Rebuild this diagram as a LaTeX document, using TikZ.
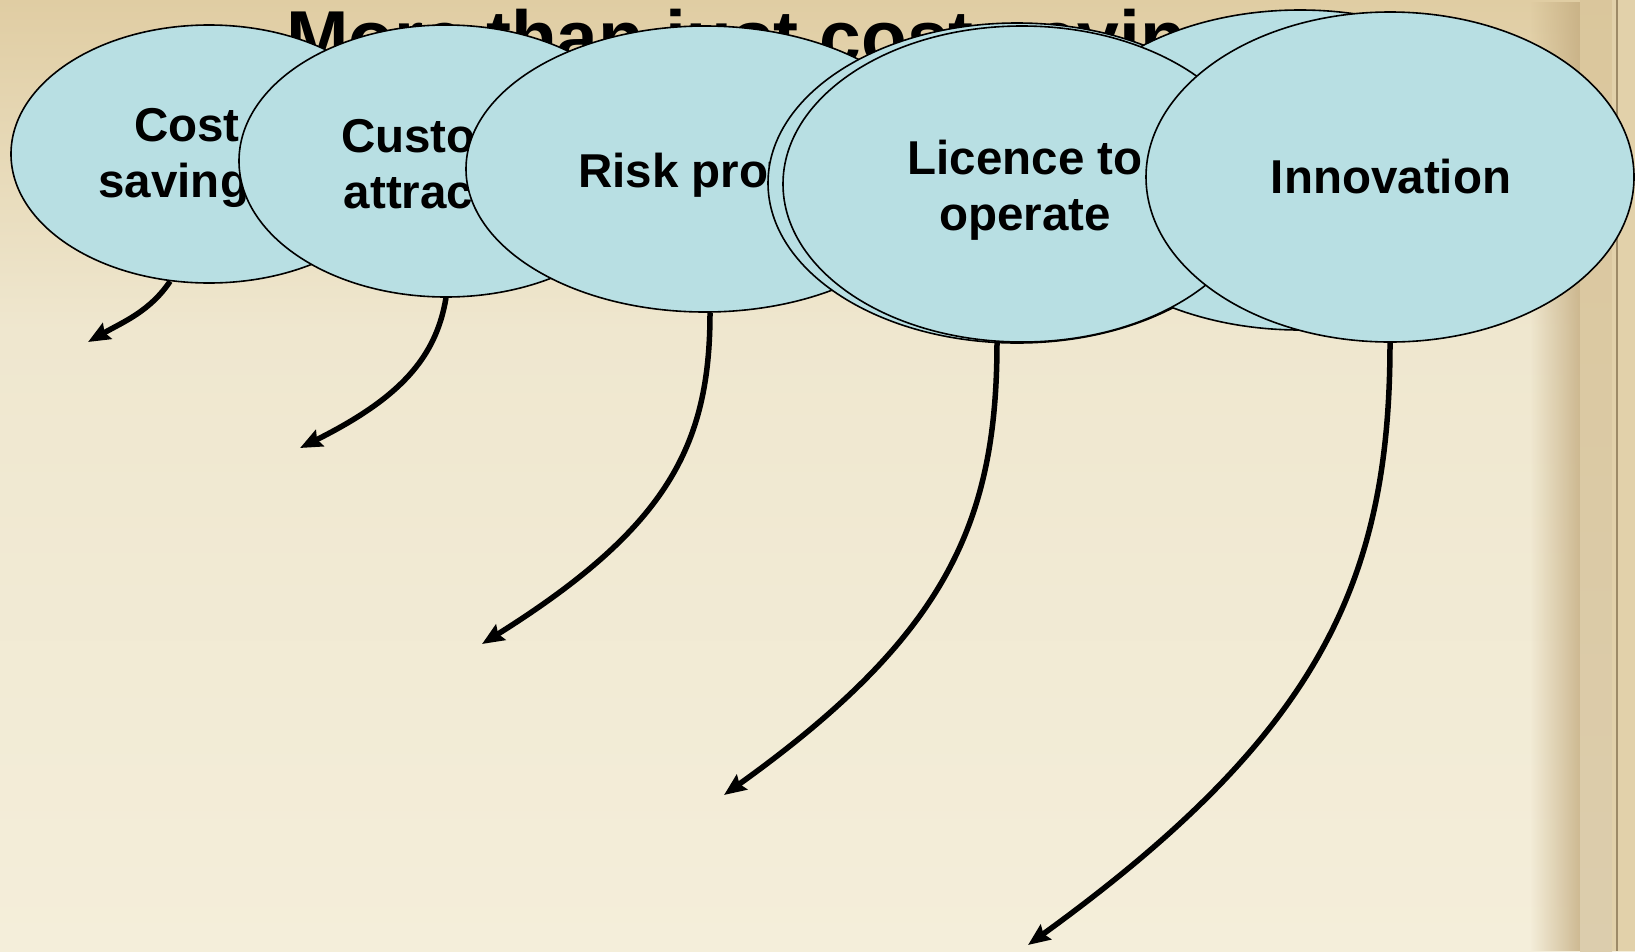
\documentclass[tikz,border=0pt]{standalone}
\usepackage{fontspec}
\setmainfont{Liberation Sans}
\usetikzlibrary{arrows.meta,fadings,shapes.geometric}
\definecolor{bubblefill}{RGB}{184,223,227}
\definecolor{paperTop}{RGB}{224,205,163}
\definecolor{paperMid}{RGB}{239,231,207}
\definecolor{paperLow}{RGB}{244,238,218}
\definecolor{paperEdge}{RGB}{196,172,128}
\pgfdeclarelayer{paper}
\pgfdeclarelayer{arrows}
\pgfsetlayers{paper,arrows,main}
\tikzset{
  bubble/.style={ellipse, draw=black, line width=1.6pt, fill=bubblefill, inner sep=0pt},
  bubtext/.style={font=\fontsize{47.5}{56}\selectfont\bfseries, align=center, inner sep=0pt, anchor=base},
  flow/.style={line width=5.5pt, -{Stealth[length=22pt,width=18pt,inset=3pt]}}
}
\begin{document}
\begin{tikzpicture}[x=1pt,y=-1pt]
\useasboundingbox (0,0) rectangle (1635,951);
% background paper
\begin{pgfonlayer}{paper}
\shade[top color=paperTop, bottom color=paperMid] (0,0) rectangle (1635,330);
\shade[top color=paperMid, bottom color=paperLow] (0,330) rectangle (1635,951);
\fill[paperEdge, path fading=west, fill opacity=0.8] (1530,0) rectangle (1580,951);
\shade[top color=paperTop!80!paperEdge, middle color=paperEdge!90!black, bottom color=paperEdge!50!paperLow] (1580,0) rectangle (1612,951);
\fill[paperTop!85!paperMid] (1612,0) rectangle (1635,951);
\draw[paperEdge!80!black, line width=1.2pt] (1617,0) -- (1617,951);
\end{pgfonlayer}
% title
\node[anchor=base west, inner sep=0pt, font=\fontsize{75}{90}\selectfont\bfseries] (title) at (286,63) {More than just cost savings};
% ellipses and their texts, in stacking order
\node[bubble, minimum width=396pt, minimum height=258pt] (cs) at (209,154) {};
\node[bubtext] (tcs) at (187,197) {Cost\\savings};
\node[bubble, minimum width=414pt, minimum height=272pt] (ca) at (446,161) {};
\node[bubtext] (tca) at (452,208) {Customer\\attraction};
\node[bubble, minimum width=478pt, minimum height=286pt] (rp) at (705,169) {};
\node[bubtext] (trp) at (751,187) {Risk protection};
\node[bubble, minimum width=498pt, minimum height=320pt] (lob) at (1017,183) {};
\node[bubble, minimum width=500pt, minimum height=320pt] (inb) at (1300,170) {};
\node[bubble, minimum width=478pt, minimum height=316pt] (lo) at (1022,184) {};
\node[bubtext] (tlo) at (1025,230) {Licence to\\operate};
\node[bubble, minimum width=488pt, minimum height=330pt] (inno) at (1390,177) {};
\node[bubtext] (tin) at (1391,193) {Innovation};
% arrow end points
\coordinate (e1) at (88,342);
\coordinate (e2) at (300,448);
\coordinate (e3) at (482,644);
\coordinate (e4) at (724,795);
\coordinate (e5) at (1028,945);
% arrows (below the ellipses)
\begin{pgfonlayer}{arrows}
\draw[flow] (cs.253.8) .. controls +(-20,30) and +(35,-20) .. (e1);
\draw[flow] (ca.south) .. controls +(-10,60) and +(100,-50) .. (e2);
\draw[flow] ([xshift=5pt]rp.south) .. controls +(0,133) and +(185,-116) .. (e3);
\draw[flow] (lo.261.4) .. controls +(0,181) and +(222,-159) .. (e4);
\draw[flow] (inno.south) .. controls +(0,240) and +(290,-210) .. (e5);
\end{pgfonlayer}
\end{tikzpicture}
\end{document}
